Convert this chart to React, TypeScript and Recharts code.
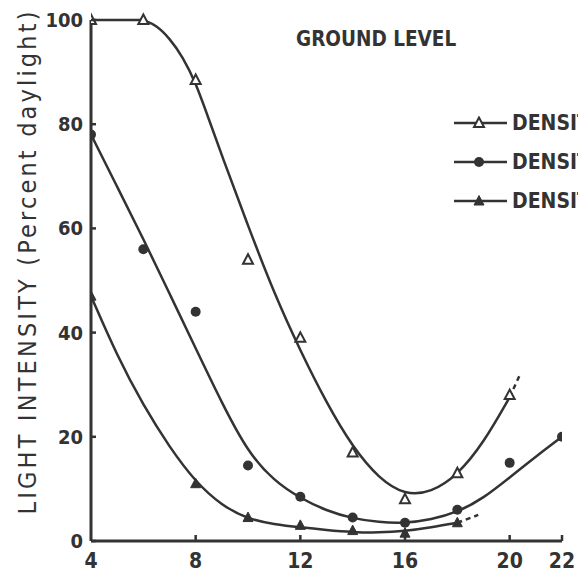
import { ComposedChart, Line, Scatter, XAxis, YAxis, Legend } from "recharts"

const INK = "#333"
const FONT = "'DejaVu Sans Condensed', 'DejaVu Sans', sans-serif"

const xTicks = [4, 8, 12, 16, 20, 22]
const yTicks = [0, 20, 40, 60, 80, 100]

const seriesNames = ["DENSITY 1", "DENSITY 2", "DENSITY 3"]
const seriesMarkers = ["openTriangle", "circle", "triangle"]

// observed points
const density1Points = [
  { x: 4, y: 100 },
  { x: 6, y: 100 },
  { x: 8, y: 88.5 },
  { x: 10, y: 54 },
  { x: 12, y: 39 },
  { x: 14, y: 17 },
  { x: 16, y: 8 },
  { x: 18, y: 13 },
  { x: 20, y: 28 },
]

const density2Points = [
  { x: 4, y: 78 },
  { x: 6, y: 56 },
  { x: 8, y: 44 },
  { x: 10, y: 14.5 },
  { x: 12, y: 8.5 },
  { x: 14, y: 4.5 },
  { x: 16, y: 3.5 },
  { x: 18, y: 6 },
  { x: 20, y: 15 },
  { x: 22, y: 20 },
]

const density3Points = [
  { x: 4, y: 47 },
  { x: 8, y: 11 },
  { x: 10, y: 4.5 },
  { x: 12, y: 3 },
  { x: 14, y: 2 },
  { x: 16, y: 1.5 },
  { x: 18, y: 3.5 },
]

// hand-fitted curves
const density1Plateau = [
  { x: 4, y: 100 },
  { x: 6, y: 100 },
]
const density1Curve = [
  { x: 6, y: 100 },
  { x: 6.5, y: 99 },
  { x: 7, y: 96.5 },
  { x: 7.5, y: 93 },
  { x: 8, y: 88 },
  { x: 8.5, y: 81 },
  { x: 9, y: 74 },
  { x: 10, y: 60.5 },
  { x: 11, y: 47.5 },
  { x: 12, y: 36.5 },
  { x: 13, y: 26.5 },
  { x: 14, y: 18 },
  { x: 15, y: 12 },
  { x: 16, y: 8.8 },
  { x: 17, y: 9.3 },
  { x: 18, y: 12.6 },
  { x: 19, y: 18.8 },
  { x: 20, y: 27.6 },
]
const density1Extension = [
  { x: 20, y: 27.6 },
  { x: 20.4, y: 32 },
]

const density2Curve = [
  { x: 4, y: 78 },
  { x: 5, y: 68 },
  { x: 6, y: 58 },
  { x: 7, y: 47.5 },
  { x: 8, y: 37 },
  { x: 9, y: 26.5 },
  { x: 10, y: 17 },
  { x: 11, y: 11.5 },
  { x: 12, y: 8.2 },
  { x: 13, y: 5.8 },
  { x: 14, y: 4.3 },
  { x: 15, y: 3.6 },
  { x: 16, y: 3.4 },
  { x: 17, y: 4.1 },
  { x: 18, y: 5.5 },
  { x: 19, y: 8.2 },
  { x: 20, y: 12.2 },
  { x: 21, y: 16.2 },
  { x: 22, y: 20 },
]

const density3Curve = [
  { x: 4, y: 47 },
  { x: 5, y: 35.5 },
  { x: 6, y: 26 },
  { x: 7, y: 18 },
  { x: 8, y: 11.3 },
  { x: 9, y: 6.8 },
  { x: 10, y: 4.2 },
  { x: 11, y: 3.2 },
  { x: 12, y: 2.6 },
  { x: 13, y: 2.1 },
  { x: 14, y: 1.7 },
  { x: 15, y: 1.6 },
  { x: 16, y: 1.9 },
  { x: 17, y: 2.6 },
  { x: 18, y: 3.5 },
]
const density3Extension = [
  { x: 18, y: 3.5 },
  { x: 18.8, y: 5 },
]

function Marker({ kind, cx, cy }: { kind: string; cx: number; cy: number }) {
  if (kind === "circle") return <circle cx={cx} cy={cy} r={5} fill={INK} />
  const pts = `${cx},${cy - 5.5} ${cx - 5},${cy + 4} ${cx + 5},${cy + 4}`
  if (kind === "openTriangle")
    return <polygon points={pts} fill="#fff" stroke={INK} strokeWidth={2} />
  return <polygon points={pts} fill={INK} stroke={INK} strokeWidth={1} />
}

const YTick = ({ x, y, payload }: any) => (
  <g>
    <line x1={x} y1={y} x2={x + 5} y2={y} stroke={INK} strokeWidth={2.5} />
    <text
      x={x - 8}
      y={y}
      dy={7}
      textAnchor="end"
      fontFamily={FONT}
      fontWeight="bold"
      fontSize={20}
      fill={INK}
    >
      {payload.value}
    </text>
  </g>
)

const XTick = ({ x, y, payload }: any) => (
  <g>
    {payload.value !== 4 && (
      <line x1={x} y1={y} x2={x} y2={y - 6} stroke={INK} strokeWidth={2.5} />
    )}
    <text
      x={x}
      y={y + 27}
      textAnchor="middle"
      fontFamily={FONT}
      fontWeight="bold"
      fontSize={21}
      fill={INK}
    >
      {payload.value}
    </text>
  </g>
)

const YTitle = () => (
  <text
    x={27}
    y={263}
    transform="rotate(-90 27 263)"
    textAnchor="middle"
    dominantBaseline="central"
    fontFamily={FONT}
    fontSize={25}
    textLength={503}
    lengthAdjust="spacing"
    fill={INK}
  >
    LIGHT INTENSITY (Percent daylight)
  </text>
)

const LegendBox = () => (
  <div style={{ fontFamily: FONT, fontWeight: "bold", fontSize: 21, color: INK }}>
    {seriesNames.map((name, i) => (
      <div
        key={name}
        style={{ display: "flex", alignItems: "center", height: 39, whiteSpace: "nowrap" }}
      >
        <svg width={56} height={14} style={{ flex: "none" }}>
          <line x1={0} y1={7} x2={53} y2={7} stroke={INK} strokeWidth={2.5} />
          <Marker kind={seriesMarkers[i]} cx={25} cy={7} />
        </svg>
        <span style={{ marginLeft: 2 }}>{name}</span>
      </div>
    ))}
  </div>
)

const curveProps = {
  dataKey: "y",
  stroke: INK,
  strokeWidth: 2.5,
  dot: false,
  legendType: "none" as const,
  isAnimationActive: false,
}

export default function App() {
  return (
    <div
      style={{
        position: "absolute",
        left: 0,
        top: 0,
        width: 578,
        height: 576,
        overflow: "hidden",
        background: "#fff",
      }}
    >
      <ComposedChart
        width={578}
        height={576}
        margin={{ top: 20, right: 16, bottom: 0, left: 0 }}
      >
        <XAxis
          type="number"
          dataKey="x"
          domain={[4, 22]}
          ticks={xTicks}
          height={35}
          tickSize={0}
          tickMargin={0}
          tickLine={false}
          axisLine={{ stroke: INK, strokeWidth: 3 }}
          tick={<XTick />}
          allowDataOverflow
        />
        <YAxis
          type="number"
          dataKey="y"
          domain={[0, 100]}
          ticks={yTicks}
          width={91}
          tickSize={0}
          tickMargin={0}
          tickLine={false}
          axisLine={{ stroke: INK, strokeWidth: 3 }}
          tick={<YTick />}
          label={<YTitle />}
        />
        <Legend
          layout="vertical"
          align="center"
          verticalAlign="middle"
          content={<LegendBox />}
          wrapperStyle={{ left: 454, top: 103, width: 200, height: "auto" }}
        />

        <Line data={density1Plateau} type="linear" {...curveProps} />
        <Line data={density1Curve} type="basis" {...curveProps} />
        <Line data={density1Extension} type="linear" strokeDasharray="5 4" {...curveProps} />
        <Line data={density2Curve} type="basis" {...curveProps} />
        <Line data={density3Curve} type="basis" {...curveProps} />
        <Line data={density3Extension} type="linear" strokeDasharray="5 4" {...curveProps} />

        <Scatter
          name={seriesNames[0]}
          data={density1Points}
          shape={(p: any) => <Marker kind="openTriangle" cx={p.cx} cy={p.cy} />}
          isAnimationActive={false}
        />
        <Scatter
          name={seriesNames[1]}
          data={density2Points}
          shape={(p: any) => <Marker kind="circle" cx={p.cx} cy={p.cy} />}
          isAnimationActive={false}
        />
        <Scatter
          name={seriesNames[2]}
          data={density3Points}
          shape={(p: any) => <Marker kind="triangle" cx={p.cx} cy={p.cy} />}
          isAnimationActive={false}
        />
      </ComposedChart>
      <div
        style={{
          position: "absolute",
          left: 296,
          top: 27,
          fontFamily: FONT,
          fontWeight: "bold",
          fontSize: 20.5,
          color: INK,
          whiteSpace: "nowrap",
        }}
      >
        GROUND LEVEL
      </div>
    </div>
  )
}
